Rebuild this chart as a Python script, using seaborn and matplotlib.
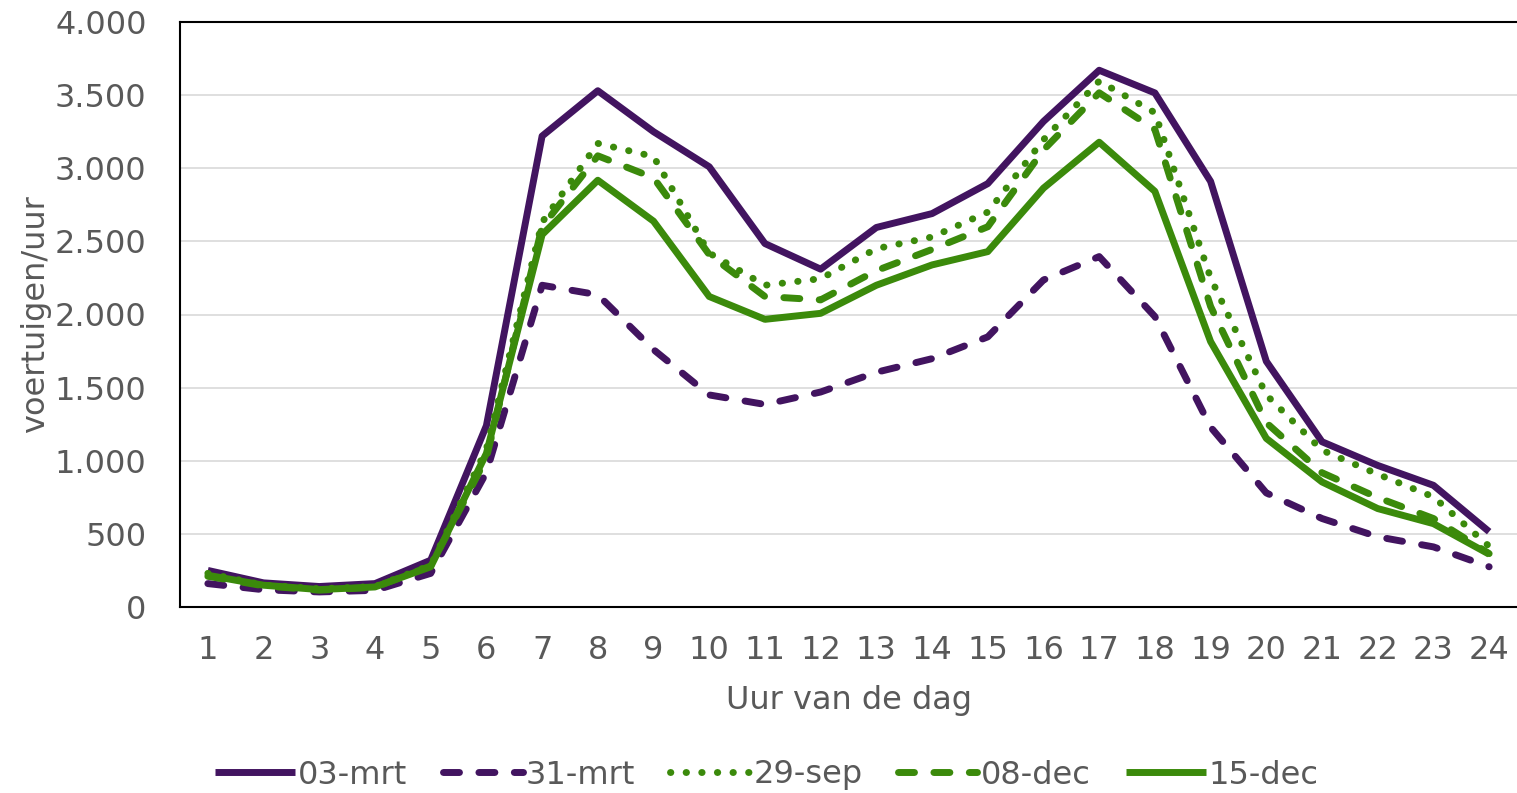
import matplotlib
matplotlib.use("Agg")
import matplotlib.pyplot as plt
from matplotlib.ticker import FixedLocator, FuncFormatter
import seaborn as sns
import pandas as pd

# hourly traffic intensities (voertuigen/uur)
hours = list(range(1, 25))
mrt03 = [250, 165, 140, 160, 320, 1240, 3220, 3530, 3250, 3010, 2485, 2310,
         2595, 2690, 2895, 3320, 3670, 3515, 2910, 1680, 1130, 968, 832, 515]
mrt31 = [160, 118, 103, 114, 230, 920, 2200, 2135, 1760, 1450, 1385, 1470,
         1605, 1698, 1847, 2236, 2396, 1986, 1230, 780, 605, 480, 411, 275]
sep29 = [230, 150, 125, 140, 285, 1080, 2630, 3170, 3080, 2420, 2200, 2245,
         2450, 2530, 2700, 3195, 3596, 3380, 2250, 1450, 1072, 908, 753, 415]
dec08 = [210, 145, 115, 135, 280, 1020, 2600, 3085, 2935, 2410, 2123, 2100,
         2300, 2445, 2600, 3125, 3516, 3265, 2055, 1260, 918, 748, 605, 365]
dec15 = [217, 149, 119, 137, 275, 1050, 2546, 2918, 2638, 2123, 1967, 2008,
         2200, 2339, 2430, 2864, 3178, 2842, 1815, 1153, 855, 673, 570, 361]

series = ["03-mrt", "31-mrt", "29-sep", "08-dec", "15-dec"]
values = [mrt03, mrt31, sep29, dec08, dec15]

df = pd.DataFrame({
    "uur": hours * len(series),
    "waarde": [v for vals in values for v in vals],
    "datum": [s for s in series for _ in hours],
})

purple = "#421460"
green = "#3b8a0b"
palette = {"03-mrt": purple, "31-mrt": purple, "29-sep": green,
           "08-dec": green, "15-dec": green}
dashes = {"03-mrt": "", "31-mrt": (2.3, 2.8), "29-sep": (0.05, 2.2),
          "08-dec": (2.3, 2.8), "15-dec": ""}
text_color = "#595959"
fs = 23

sns.set_style("white")
plt.rcParams["font.family"] = ["DejaVu Sans"]
plt.rcParams["lines.dash_capstyle"] = "round"
plt.rcParams["lines.solid_capstyle"] = "butt"

fig = plt.figure(figsize=(15.17, 7.93), dpi=100)
ax = fig.add_axes([180 / 1517, 1 - 607 / 793, 1 - 180 / 1517, (607 - 22) / 793])

sns.lineplot(data=df, x="uur", y="waarde", hue="datum", style="datum",
             hue_order=series, style_order=series, palette=palette,
             dashes=dashes, linewidth=5, ax=ax, legend=True)

ax.set_xlim(0.5, 24.5)
ax.set_ylim(0, 4000)
ax.set_yticks(range(0, 4001, 500))
ax.yaxis.set_major_formatter(FuncFormatter(lambda v, p: f"{int(v):,}".replace(",", ".")))
ax.set_xticks(hours)
ax.xaxis.set_minor_locator(FixedLocator([h + 0.5 for h in range(0, 25)]))

ax.grid(axis="y", color="#d9d9d9", linewidth=1.2)
ax.grid(axis="x", visible=False)
ax.set_axisbelow(True)

ax.tick_params(axis="y", length=0, pad=24, labelsize=fs, labelcolor=text_color)
ax.tick_params(axis="x", which="major", length=0, pad=20, labelsize=fs, labelcolor=text_color)
ax.tick_params(axis="x", which="minor", length=7, width=1.3, color="black", direction="out")

for side in ["left", "top", "bottom"]:
    ax.spines[side].set_visible(True)
    ax.spines[side].set_color("black")
    ax.spines[side].set_linewidth(1.5)
ax.spines["right"].set_visible(False)

ax.set_xlabel("Uur van de dag", fontsize=fs, color=text_color, labelpad=14)
ax.set_ylabel("voertuigen/uur", fontsize=fs, color=text_color, labelpad=3)

handles, labels = ax.get_legend_handles_labels()
ax.legend_.remove()
leg = fig.legend(handles, labels, loc="center", bbox_to_anchor=(767 / 1517, 1 - 775 / 793),
                 ncol=5, frameon=False, fontsize=fs, handlelength=2.5,
                 handletextpad=0.1, columnspacing=1.1)
for t in leg.get_texts():
    t.set_color(text_color)
for line in leg.get_lines():
    line.set_linewidth(5)

fig.savefig("out.png", dpi=100)
plt.close(fig)
